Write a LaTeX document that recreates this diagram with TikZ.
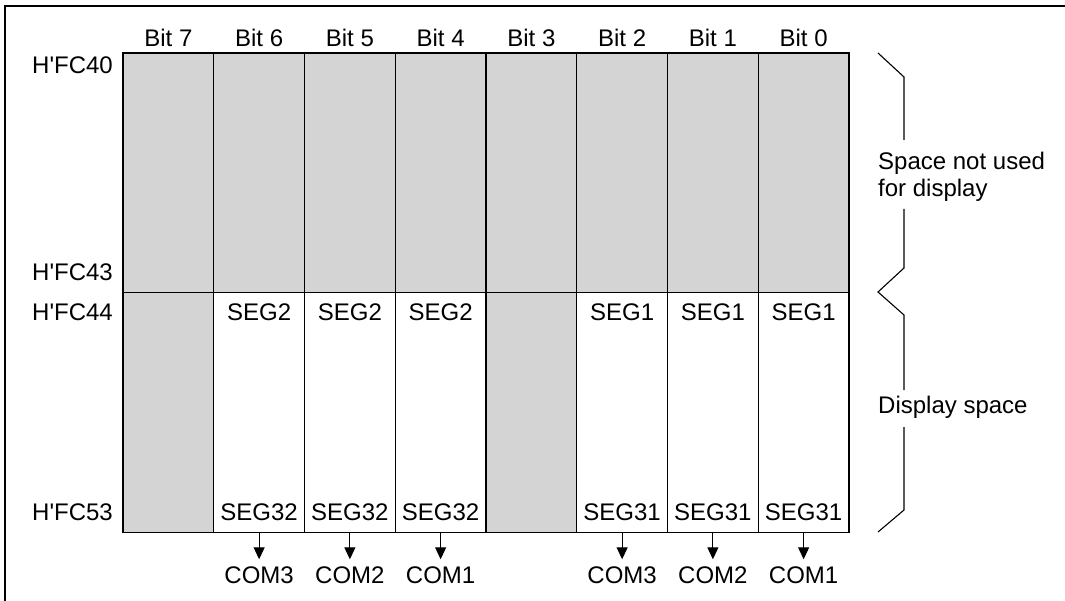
\documentclass[tikz,border=0pt]{standalone}
\usepackage{fontspec}
\setmainfont{Liberation Sans}[Ligatures=TeXOff]
\usetikzlibrary{arrows.meta}
\definecolor{cellgray}{RGB}{212,212,212}
\tikzset{
  lbl/.style={font=\fontsize{24}{27.5}\selectfont, inner sep=0pt},
  cell/.style={draw=black, line width=1.3pt, inner sep=0pt, outer sep=0pt,
     minimum width=90.75pt, anchor=north west},
  grayc/.style={cell, fill=cellgray},
  whitec/.style={cell, fill=white},
  comarrow/.style={line width=1.1pt, shorten >=7pt, -{Triangle[length=12pt,width=11pt]}},
  bracel/.style={line width=1.1pt}
}
\begin{document}
\begin{tikzpicture}[x=1pt,y=-1pt]
\useasboundingbox (0,0) rectangle (1065,601);
% frame (cropped at right and bottom)
\draw[line width=2pt] (5,610) -- (5,6) -- (1075,6);
% cells
\foreach \i/\b in {0/7,1/6,2/5,3/4,4/3,5/2,6/1,7/0}{
  \node[grayc, minimum height=239.5pt] (t\i) at ({123+\i*90.75},53) {};
  \node[lbl] (bit\i) at ({123+(\i+0.5)*90.75},38) {Bit \b};
}
\foreach \i in {0,4}{
  \node[grayc, minimum height=240pt] (b\i) at ({123+\i*90.75},292.5) {};
}
\foreach \i in {1,2,3,5,6,7}{
  \node[whitec, minimum height=240pt] (b\i) at ({123+\i*90.75},292.5) {};
}
% SEG labels
\foreach \i in {1,2,3}{
  \node[lbl] (s2\i) at ({123+(\i+0.5)*90.75},312) {SEG2};
  \node[lbl] (s32\i) at ({123+(\i+0.5)*90.75},512) {SEG32};
}
\foreach \i in {5,6,7}{
  \node[lbl] (s1\i) at ({123+(\i+0.5)*90.75},312) {SEG1};
  \node[lbl] (s31\i) at ({123+(\i+0.5)*90.75},512) {SEG31};
}
% addresses
\node[lbl, anchor=east] (a40) at (113,65) {H'FC40};
\node[lbl, anchor=east] (a43) at (113,272) {H'FC43};
\node[lbl, anchor=east] (a44) at (113,312) {H'FC44};
\node[lbl, anchor=east] (a53) at (113,512) {H'FC53};
% COM labels and arrows
\foreach \i/\c in {1/3,2/2,3/1,5/3,6/2,7/1}{
  \node[lbl] (com\i) at ({123+(\i+0.5)*90.75},575) {COM\c};
  \draw[comarrow] (b\i.south) -- (com\i.north);
}
% braces
\node[lbl, anchor=west, align=left] (nu) at (878,177) {Space not used\\for display};
\node[lbl, anchor=west] (ds) at (878,407) {Display space};
\coordinate (u0) at (878,53);
\coordinate (u1) at (904,77);
\coordinate (u2) at (904,140);
\coordinate (u3) at (904,209);
\coordinate (u4) at (904,268);
\coordinate (m) at (878,292);
\coordinate (d1) at (904,315);
\coordinate (d2) at (904,390);
\coordinate (d3) at (904,427);
\coordinate (d4) at (904,510);
\coordinate (d5) at (878,532);
\draw[bracel] (u0) -- (u1) -- (u2);
\draw[bracel] (u3) -- (u4) -- (m) -- (d1) -- (d2);
\draw[bracel] (d3) -- (d4) -- (d5);
\end{tikzpicture}
\end{document}
